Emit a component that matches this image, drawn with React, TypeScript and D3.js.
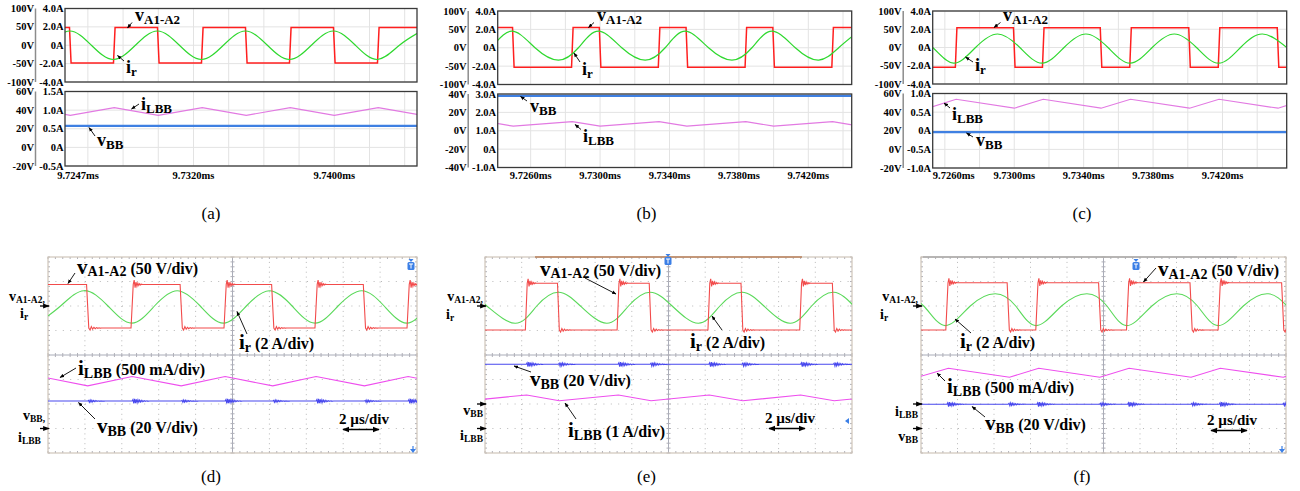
import React from 'react'
import * as d3 from 'd3'

type Pt = [number, number]

const SERIF = "'Liberation Serif', 'Times New Roman', serif"

// ---------------- (a)(b)(c) simulation, time in ms ----------------
const aTicks = [9.7247, 9.732, 9.74]
const bcTicks = [9.726, 9.73, 9.734, 9.738, 9.742]

const topV = [100, 50, 0, -50, -100]
const topA = ['4.0A', '2.0A', '0A', '-2.0A', '-4.0A']
const aBotV = [60, 40, 20, 0, -20]
const aBotA = ['1.5A', '1.0A', '0.5A', '0A', '-0.5A']
const bBotV = [40, 20, 0, -20, -40]
const bBotA = ['3.0A', '2.0A', '1.0A', '0A', '-1.0A']
const cBotV = [60, 40, 20, 0, -20]
const cBotA = ['1.0A', '0.5A', '0A', '-0.5A', '-1.0A']

// (a)
const aRise = [9.7275, 9.7325, 9.7375, 9.7425]
const aFall = [9.725, 9.73, 9.735, 9.74]
const aVab = [48, -48]
const aIr: Pt[] = [[9.72245, -1.55], [9.7237, 0], [9.72495, 1.55], [9.7262, 0], [9.72745, -1.55], [9.7287, 0], [9.72995, 1.55], [9.7312, 0], [9.73245, -1.55], [9.7337, 0], [9.73495, 1.55], [9.7362, 0], [9.73745, -1.55], [9.7387, 0], [9.73995, 1.55], [9.7412, 0], [9.74245, -1.55], [9.7437, 0], [9.74495, 1.55]]
const aIlbb: Pt[] = [[9.7225, 1.065], [9.725, 0.86], [9.7275, 1.065], [9.73, 0.86], [9.7325, 1.065], [9.735, 0.86], [9.7375, 1.065], [9.74, 0.86], [9.7425, 1.065], [9.745, 0.86]]
const aVbb = 23

// (b)
const bRise = [9.7234, 9.7284, 9.7334, 9.7384, 9.7434]
const bFall = [9.725, 9.73, 9.735, 9.74]
const bVab = [55, -53]
const bIr: Pt[] = [[9.7226, -1.35], [9.7237, 0], [9.7249, 1.8], [9.72625, 0], [9.7276, -1.35], [9.72875, 0], [9.7299, 1.8], [9.73125, 0], [9.7326, -1.35], [9.73375, 0], [9.7349, 1.8], [9.73625, 0], [9.7376, -1.35], [9.73875, 0], [9.7399, 1.8], [9.74125, 0], [9.7426, -1.35], [9.74375, 0], [9.7449, 1.8]]
const bIlbb: Pt[] = [[9.7234, 1.5], [9.725, 1.25], [9.7284, 1.5], [9.73, 1.25], [9.7334, 1.5], [9.735, 1.25], [9.7384, 1.5], [9.74, 1.25], [9.7434, 1.5], [9.745, 1.25]]
const bVbb = 38

// (c)
const cRise = [9.72665, 9.73167, 9.7367, 9.7418]
const cFall = [9.73, 9.735, 9.7401, 9.7452]
const cVab = [54, -54]
const cIr: Pt[] = [[9.724, 1.48], [9.7253, 0], [9.7265, -1.72], [9.72777, 0], [9.72904, 1.48], [9.73032, 0], [9.7316, -1.72], [9.73287, 0], [9.73413, 1.48], [9.7354, 0], [9.73667, -1.72], [9.73795, 0], [9.73922, 1.48], [9.7405, 0], [9.74177, -1.72], [9.74304, 0], [9.7443, 1.48], [9.7457, 0]]
const cIlbb: Pt[] = [[9.725, 0.605], [9.72665, 0.845], [9.73, 0.605], [9.73167, 0.845], [9.735, 0.605], [9.7367, 0.845], [9.7401, 0.605], [9.7418, 0.845], [9.7452, 0.605], [9.7469, 0.845]]
const cVbb = 18.5

// ---------------- (d)(e)(f) oscilloscope, time in µs (2 µs/div) ----------------
const dRise = [4.56, 9.6, 14.53, 19.52]
const dFall = [2.15, 7.22, 12.18, 17.15]
const dVab = [44, -45]
const dIr: Pt[] = [[-0.55, -1.4], [0.68, 0], [1.95, 1.25], [3.25, 0], [4.54, -1.4], [5.77, 0], [7.0, 1.25], [8.25, 0], [9.5, -1.4], [10.75, 0], [12.0, 1.25], [13.23, 0], [14.47, -1.4], [15.72, 0], [17.0, 1.25], [18.22, 0], [19.44, -1.4], [20.6, 0]]
const dIlbb: Pt[] = [[-0.4, 1.06], [2.15, 0.87], [4.56, 1.06], [7.22, 0.87], [9.6, 1.06], [12.18, 0.87], [14.53, 1.06], [17.15, 0.87], [19.52, 1.06], [22.1, 0.87]]
const dVbb = 22.4

const eRise = [2.25, 7.25, 12.2, 17.2]
const eFall = [4.0, 9.0, 14.0, 18.98]
const eVab = [46.5, -49]
const eIr: Pt[] = [[-1.0, 1.12], [0.1, 0], [1.64, -1.41], [2.82, 0], [4.0, 1.12], [5.2, 0], [6.64, -1.41], [7.82, 0], [9.0, 1.12], [10.2, 0], [11.63, -1.41], [12.8, 0], [14.0, 1.12], [15.2, 0], [16.63, -1.41], [17.8, 0], [19.0, 1.12], [20.1, 0]]
const eIlbb: Pt[] = [[-0.95, 1.13], [2.27, 1.37], [4.05, 1.13], [7.27, 1.37], [9.05, 1.13], [12.22, 1.37], [14.05, 1.13], [17.2, 1.37], [19.03, 1.13], [22.2, 1.37]]
const eVbb = 32.4

const fRise = [1.42, 6.35, 11.32, 16.34]
const fFall = [4.78, 9.79, 14.8, 19.82]
const fVab = [47.5, -49]
const fIr: Pt[] = [[-1.1, 1.0], [0.15, 0], [1.33, -1.6], [2.7, 0], [4.07, 1.0], [5.19, 0], [6.31, -1.6], [7.7, 0], [9.09, 1.0], [10.19, 0], [11.28, -1.6], [12.65, 0], [14.02, 1.0], [15.15, 0], [16.29, -1.6], [17.66, 0], [19.03, 1.0], [20.05, 0]]
const fIlbb: Pt[] = [[-0.15, 0.55], [1.5, 0.73], [4.85, 0.545], [6.45, 0.73], [9.8, 0.545], [11.4, 0.73], [14.8, 0.545], [16.4, 0.73], [19.85, 0.545], [21.4, 0.73]]
const fVbb = 19.8

// decaying ringing seen after the switching edges on the scope
const ringShape = [1, -0.75, 0.55, -0.4, 0.3, -0.22, 0.15, -0.1, 0.06]
const burstShape = [0.6, -1, 0.9, -0.8, 0.7, -0.6, 0.5, -0.45, 0.4, -0.35, 0.3, -0.25, 0.2, -0.18, 0.15, -0.12, 0.1, -0.08, 0.06, -0.05]

type Ring = { up: number; down: number; step: number }

function squarePts(rises: number[], falls: number[], lev: number[], t0: number, t1: number, startHigh: boolean, dt: number, ring?: Ring): Pt[] {
  const edges = [...rises.map(t => ({ t, up: true })), ...falls.map(t => ({ t, up: false }))].sort((a, b) => a.t - b.t)
  let v = startHigh ? lev[0] : lev[1]
  const pts: Pt[] = [[t0, v]]
  edges.forEach(e => {
    pts.push([e.t - dt / 2, v])
    v = e.up ? lev[0] : lev[1]
    pts.push([e.t + dt / 2, v])
    if (ring) {
      const amp = e.up ? ring.up : -ring.down
      const step = e.up ? ring.step : ring.step * 1.4
      ringShape.forEach((k, i) => pts.push([e.t + dt / 2 + (i + 1) * step, v + amp * k]))
      pts.push([e.t + dt / 2 + (ringShape.length + 1) * step, v])
    }
  })
  pts.push([t1, v])
  return pts
}

function burstPts(level: number, rises: number[], falls: number[], ampUp: number, ampDown: number, step: number): Pt[] {
  const edges = [...rises.map(t => ({ t, a: ampUp })), ...falls.map(t => ({ t, a: ampDown }))].sort((a, b) => a.t - b.t)
  const pts: Pt[] = [[0, level]]
  edges.forEach(e => {
    pts.push([e.t, level])
    burstShape.forEach((k, i) => pts.push([e.t + (i + 1) * step, level + e.a * k]))
    pts.push([e.t + (burstShape.length + 1) * step, level])
  })
  pts.push([20, level])
  return pts
}

type Note = { x: number; y: number; main: string; sub: string; rest?: string; leader: number[] }

function Label({ n, big, small, rest }: { n: Note; big: number; small: number; rest?: number }) {
  return (
    <g>
      <text x={n.x} y={n.y} fontFamily={SERIF} fontWeight="bold" fill="#000">
        <tspan fontSize={big}>{n.main}</tspan>
        <tspan fontSize={small} dy={2.5}>{n.sub}</tspan>
        {n.rest && <tspan fontSize={rest} dy={-2.5} dx={4}>{n.rest}</tspan>}
      </text>
      <line x1={n.leader[0]} y1={n.leader[1]} x2={n.leader[2]} y2={n.leader[3]} stroke="#000" strokeWidth={0.9} markerEnd="url(#arr)" />
    </g>
  )
}

function SimPanel(p: any) {
  const x = d3.scaleLinear().domain(p.domain).range([p.x0, p.x1])
  const [t0, t1] = p.top
  const [b0, b1] = p.bot
  const yV = d3.scaleLinear().domain([-100, 100]).range([t1, t0])
  const yA = d3.scaleLinear().domain([-4, 4]).range([t1, t0])
  const yV2 = d3.scaleLinear().domain(d3.extent(p.botV as number[]) as [number, number]).range([b1, b0])
  const yA2 = d3.scaleLinear().domain(p.botADomain).range([b1, b0])
  const lin = (ys: any) => d3.line<Pt>().x(d => x(d[0])).y(d => ys(d[1]))
  const smooth = (ys: any) => d3.line<Pt>().x(d => x(d[0])).y(d => ys(d[1])).curve(d3.curveNatural)
  const grid = d3.range(Math.ceil(p.domain[0] / 0.002 - 1e-6), Math.floor(p.domain[1] / 0.002 + 1e-6) + 1).map(k => k * 0.002)
  const vab = squarePts(p.rise, p.fall, p.vab, p.domain[0] - 0.001, p.domain[1] + 0.001, p.startHigh, 0.00009)
  const vbb: Pt[] = [[p.domain[0], p.vbb], [p.domain[1], p.vbb]]
  const plots = [
    { y0: t0, y1: t1, yv: yV, ticks: topV, alabels: topA, cid: p.id + 't' },
    { y0: b0, y1: b1, yv: yV2, ticks: p.botV, alabels: p.botA, cid: p.id + 'b' },
  ]
  return (
    <g fontFamily={SERIF} fontWeight="bold">
      {plots.map(pl => (
        <g key={pl.cid}>
          <clipPath id={pl.cid}><rect x={p.x0} y={pl.y0} width={p.x1 - p.x0} height={pl.y1 - pl.y0} /></clipPath>
          <rect x={p.x0} y={pl.y0} width={p.x1 - p.x0} height={pl.y1 - pl.y0} fill="#fff" />
          {grid.map(g => <line key={g} x1={x(g)} x2={x(g)} y1={pl.y0} y2={pl.y1} stroke="#e3e3e3" />)}
          {pl.ticks.map((v: number) => <line key={v} x1={p.x0} x2={p.x1} y1={pl.yv(v)} y2={pl.yv(v)} stroke="#e3e3e3" />)}
          <line x1={p.x0 - 29.5} x2={p.x0 - 29.5} y1={pl.y0} y2={pl.y1} stroke="#8c8c8c" strokeWidth={1.5} />
          {pl.ticks.map((v: number, i: number) => (
            <g key={'l' + v}>
              <text x={p.x0 - 31} y={pl.yv(v) + 3.5} fontSize={10.5} textAnchor="end">{v}V</text>
              <text x={p.x0 - 1.5} y={pl.yv(v) + 3.5} fontSize={10.5} textAnchor="end">{pl.alabels[i]}</text>
            </g>
          ))}
        </g>
      ))}
      <g clipPath={`url(#${p.id}t)`}>
        <path d={lin(yV)(vab) ?? ''} fill="none" stroke="#ff1f1f" strokeWidth={1.5} />
        <path d={smooth(yA)(p.ir) ?? ''} fill="none" stroke="#2fd82f" strokeWidth={1.2} />
      </g>
      <g clipPath={`url(#${p.id}b)`}>
        <path d={lin(yA2)(p.ilbb) ?? ''} fill="none" stroke="#e27ae2" strokeWidth={1.2} />
        <path d={lin(yV2)(vbb) ?? ''} fill="none" stroke="#3f80e2" strokeWidth={2.2} />
      </g>
      {plots.map(pl => <rect key={'f' + pl.cid} x={p.x0} y={pl.y0} width={p.x1 - p.x0} height={pl.y1 - pl.y0} fill="none" stroke="#3a3a3a" strokeWidth={1.3} />)}
      {p.xTicks.map((t: number) => (
        <text key={t} x={Math.max(x(t), p.labelMin + 20)} y={178.5} fontSize={10.5} textAnchor="middle">{t.toFixed(4)}ms</text>
      ))}
      {p.notes.map((n: Note, i: number) => <Label key={i} n={n} big={18} small={13} />)}
    </g>
  )
}

function ScopePanel(p: any) {
  const { x0, x1 } = p
  const y0 = 257
  const y1 = 453
  const xDiv = d3.scaleLinear().domain([0, 10]).range([x0, x1])
  const yDiv = d3.scaleLinear().domain([-4, 4]).range([y1, y0])
  const xt = d3.scaleLinear().domain([0, 20]).range([x0, x1])
  const tr = (off: number, per: number, curve: boolean) => {
    const l = d3.line<Pt>().x(d => xt(d[0])).y(d => yDiv(off + d[1] / per))
    return curve ? l.curve(d3.curveNatural) : l
  }
  const minor = d3.range(0, 51).map(k => k / 5)
  const minorY = d3.range(0, 41).map(k => k / 5 - 4)
  const cx = xDiv(5)
  const cy = yDiv(0)
  return (
    <g>
      <clipPath id={p.id}><rect x={x0} y={y0} width={x1 - x0} height={y1 - y0} /></clipPath>
      {d3.range(1, 10).filter(i => i !== 5).map(i => (
        <line key={'v' + i} x1={xDiv(i)} x2={xDiv(i)} y1={y0} y2={y1} stroke="#b8b8b8" strokeWidth={1} strokeDasharray="1 3.9" />
      ))}
      {d3.range(-3, 4).filter(i => i !== 0).map(i => (
        <line key={'h' + i} x1={x0} x2={x1} y1={yDiv(i)} y2={yDiv(i)} stroke="#b8b8b8" strokeWidth={1} strokeDasharray="1 6.4" />
      ))}
      <line x1={x0} x2={x1} y1={cy} y2={cy} stroke="#a9acb8" />
      <line x1={cx} x2={cx} y1={y0} y2={y1} stroke="#a9acb8" />
      {minor.map(m => (
        <g key={'m' + m} stroke="#b0b0b8">
          <line x1={xDiv(m)} x2={xDiv(m)} y1={cy - 2} y2={cy + 2} />
          <line x1={xDiv(m)} x2={xDiv(m)} y1={y0} y2={y0 + 2} />
          <line x1={xDiv(m)} x2={xDiv(m)} y1={y1 - 2} y2={y1} />
        </g>
      ))}
      {minorY.map(m => (
        <g key={'n' + m} stroke="#b0b0b8">
          <line x1={cx - 2} x2={cx + 2} y1={yDiv(m)} y2={yDiv(m)} />
          <line x1={x0} x2={x0 + 2} y1={yDiv(m)} y2={yDiv(m)} />
          <line x1={x1 - 2} x2={x1} y1={yDiv(m)} y2={yDiv(m)} />
        </g>
      ))}
      <rect x={x0} y={y0} width={x1 - x0} height={y1 - y0} fill="none" stroke="#cfc5ba" strokeWidth={1.2} />
      {p.topBar && <line x1={p.topBar[0]} x2={p.topBar[1]} y1={y0} y2={y0} stroke={p.topBar[2]} strokeWidth={1.6} />}
      <g clipPath={`url(#${p.id})`} fill="none">
        {p.traces.map((t: any, i: number) => (
          <path key={i} d={tr(t.off, t.per, !!t.curve)(t.pts) ?? ''} stroke={t.color} strokeWidth={t.w ?? 1.1} />
        ))}
      </g>
      {p.icons.map((c: any, i: number) => (
        c.kind === 'T' ? (
          <g key={i}>
            <rect x={c.x - 3.5} y={c.y - 4} width={7} height={8} rx={1.5} fill="#3b7fe6" />
            <path d={`M${c.x - 2},${c.y - 2} h4 M${c.x},${c.y - 2} v4.5`} stroke="#fff" strokeWidth={1} />
            <path d={`M${c.x - 2.5},${c.y - 7} h5 l-2.5,3 z`} fill="#3b7fe6" />
          </g>
        ) : (
          <path key={i} d={c.kind === 'L' ? `M${c.x + 3},${c.y - 3} v6 l-4,-3 z` : `M${c.x - 3},${c.y - 1} h6 l-3,4 z M${c.x - 0.6},${c.y - 4} h1.2 v3 h-1.2 z`} fill="#3b7fe6" />
        )
      ))}
      {p.markers.map((m: any, i: number) => (
        <g key={i}>
          <line x1={x0 - 8} x2={x0 + 1} y1={yDiv(m.off)} y2={yDiv(m.off)} stroke="#000" strokeWidth={1.3} markerEnd="url(#arr)" />
        </g>
      ))}
      {p.left.map((l: any, i: number) => (
        <text key={i} x={l.x} y={l.y} textAnchor={l.anchor ?? 'start'} fontFamily={SERIF} fontWeight="bold" fill="#000">
          <tspan fontSize={14}>{l.main}</tspan>
          <tspan fontSize={9.5} dy={1.5}>{l.sub}</tspan>
        </text>
      ))}
      {p.notes.map((n: Note, i: number) => <Label key={i} n={n} big={21} small={14} rest={16} />)}
      <text x={p.scale[0]} y={p.scale[1]} fontFamily={SERIF} fontWeight="bold" fontSize={15}>2 µs/div</text>
      <line x1={p.scale[0] + 4} x2={p.scale[0] + 40} y1={p.scale[1] + 5.5} y2={p.scale[1] + 5.5} stroke="#000" strokeWidth={1.4} markerStart="url(#arr2)" markerEnd="url(#arr)" />
    </g>
  )
}

export default function App() {
  const red = '#f24b4b'
  const green = '#5ad95a'
  const pink = '#ee4fee'
  const blue = '#4848ee'
  const ringD: Ring = { up: 9, down: 4, step: 0.05 }
  return (
    <svg width={1300} height={491} style={{ position: 'absolute', left: 0, top: 0, background: '#fff' }}>
      <defs>
        <marker id="arr" viewBox="0 0 10 10" refX={9} refY={5} markerWidth={5} markerHeight={5} orient="auto">
          <path d="M0,1 L10,5 L0,9 z" fill="#000" />
        </marker>
        <marker id="arr2" viewBox="0 0 10 10" refX={9} refY={5} markerWidth={5} markerHeight={5} orient="auto-start-reverse">
          <path d="M0,1 L10,5 L0,9 z" fill="#000" />
        </marker>
      </defs>

      <SimPanel id="sa" x0={65} x1={417} top={[8.5, 82]} bot={[91.5, 166]} domain={[9.7247, 9.7447]}
        xTicks={aTicks} labelMin={58} botV={aBotV} botA={aBotA} botADomain={[-0.5, 1.5]}
        rise={aRise} fall={aFall} vab={aVab} startHigh={true} ir={aIr} ilbb={aIlbb} vbb={aVbb}
        notes={[
          { x: 135, y: 21, main: 'v', sub: 'A1-A2', leader: [132, 22.5, 127.5, 28] },
          { x: 126, y: 73, main: 'i', sub: 'r', leader: [124, 61, 117.5, 55.5] },
          { x: 141, y: 110, main: 'i', sub: 'LBB', leader: [139, 104, 131.5, 109] },
          { x: 97, y: 146, main: 'v', sub: 'BB', leader: [95, 136, 89, 127.5] },
        ]} />
      <SimPanel id="sb" x0={497.7} x1={851.7} top={[11, 84.5]} bot={[94, 167.5]} domain={[9.7241, 9.7445]}
        xTicks={bcTicks} labelMin={497.7} botV={bBotV} botA={bBotA} botADomain={[-1, 3]}
        rise={bRise} fall={bFall} vab={bVab} startHigh={true} ir={bIr} ilbb={bIlbb} vbb={bVbb}
        notes={[
          { x: 597, y: 21, main: 'v', sub: 'A1-A2', leader: [594, 22.5, 588.5, 27.5] },
          { x: 582, y: 75, main: 'i', sub: 'r', leader: [580, 62, 574, 53] },
          { x: 530, y: 112, main: 'v', sub: 'BB', leader: [527, 101, 520.5, 96.5] },
          { x: 583, y: 142, main: 'i', sub: 'LBB', leader: [581, 129.5, 575, 124.5] },
        ]} />
      <SimPanel id="sc" x0={932.7} x1={1286.7} top={[11, 84]} bot={[93.5, 168]} domain={[9.7253, 9.7457]}
        xTicks={bcTicks} labelMin={933.7} botV={cBotV} botA={cBotA} botADomain={[-1, 1]}
        rise={cRise} fall={cFall} vab={cVab} startHigh={false} ir={cIr} ilbb={cIlbb} vbb={cVbb}
        notes={[
          { x: 1003, y: 21, main: 'v', sub: 'A1-A2', leader: [1000.5, 22.5, 994, 27.5] },
          { x: 975, y: 71, main: 'i', sub: 'r', leader: [973, 62, 965.5, 57] },
          { x: 952, y: 120, main: 'i', sub: 'LBB', leader: [950, 108, 944, 103] },
          { x: 976, y: 146, main: 'v', sub: 'BB', leader: [973, 137, 966.5, 133] },
        ]} />

      <ScopePanel id="pd" x0={48} x1={417}
        traces={[
          { pts: burstPts(dVbb, dRise, dFall, 2.0, 1.0, 0.045), off: -3, per: 20, color: blue },
          { pts: dIlbb, off: -3, per: 0.5, color: pink },
          { pts: dIr, off: 2, per: 2, color: green, curve: true },
          { pts: squarePts(dRise, dFall, dVab, -1, 21, true, 0.12, ringD), off: 2, per: 50, color: red },
        ]}
        markers={[{ off: 2 }, { off: -3 }]}
        left={[
          { x: 9, y: 301, main: 'v', sub: 'A1-A2,' },
          { x: 20, y: 318, main: 'i', sub: 'r' },
          { x: 23, y: 420, main: 'v', sub: 'BB,' },
          { x: 18, y: 442, main: 'i', sub: 'LBB' },
        ]}
        icons={[{ kind: 'T', x: 411, y: 266 }, { kind: 'D', x: 413, y: 450 }]}
        notes={[
          { x: 77, y: 273.5, main: 'v', sub: 'A1-A2', rest: '(50 V/div)', leader: [75, 273, 68, 283.5] },
          { x: 239, y: 349, main: 'i', sub: 'r', rest: '(2 A/div)', leader: [247, 334, 237, 311.5] },
          { x: 78, y: 375, main: 'i', sub: 'LBB', rest: '(500 mA/div)', leader: [76, 368, 60, 377.5] },
          { x: 97, y: 433, main: 'v', sub: 'BB', rest: '(20 V/div)', leader: [95, 419, 78.5, 402.5] },
        ]}
        scale={[339, 424]} />
      <ScopePanel id="pe" x0={485} x1={852}
        traces={[
          { pts: burstPts(eVbb, eRise, eFall, 2.0, 1.5, 0.045), off: -2, per: 20, color: blue },
          { pts: eIlbb, off: -3, per: 1, color: pink },
          { pts: eIr, off: 2, per: 2, color: green, curve: true },
          { pts: squarePts(eRise, eFall, eVab, -1, 21, false, 0.1, ringD), off: 2, per: 50, color: red },
        ]}
        markers={[{ off: 2 }, { off: -2 }, { off: -3 }]}
        left={[
          { x: 483, y: 301, main: 'v', sub: 'A1-A2,', anchor: 'end' },
          { x: 446, y: 319, main: 'i', sub: 'r' },
          { x: 483, y: 415, main: 'v', sub: 'BB', anchor: 'end' },
          { x: 483, y: 440, main: 'i', sub: 'LBB', anchor: 'end' },
        ]}
        icons={[{ kind: 'T', x: 668, y: 261 }, { kind: 'L', x: 846, y: 421 }]}
        topBar={[535, 802, '#b8805a']}
        notes={[
          { x: 540, y: 275.5, main: 'v', sub: 'A1-A2', rest: '(50 V/div)', leader: [585, 278, 616, 294] },
          { x: 690, y: 348, main: 'i', sub: 'r', rest: '(2 A/div)', leader: [722, 330, 712, 316] },
          { x: 530, y: 386, main: 'v', sub: 'BB', rest: '(20 V/div)', leader: [531, 372, 514, 366] },
          { x: 568, y: 437, main: 'i', sub: 'LBB', rest: '(1 A/div)', leader: [576, 419, 565, 403] },
        ]}
        scale={[765, 423]} />
      <ScopePanel id="pf" x0={921} x1={1286}
        traces={[
          { pts: burstPts(fVbb, fRise, fFall, 2.0, 1.2, 0.045), off: -3, per: 20, color: blue },
          { pts: fIlbb, off: -2, per: 0.5, color: pink },
          { pts: fIr, off: 2, per: 2, color: green, curve: true },
          { pts: squarePts(fRise, fFall, fVab, -1, 21, false, 0.12, ringD), off: 2, per: 50, color: red },
        ]}
        markers={[{ off: 2 }, { off: -2 }, { off: -3 }]}
        left={[
          { x: 918, y: 301, main: 'v', sub: 'A1-A2,', anchor: 'end' },
          { x: 880, y: 319, main: 'i', sub: 'r' },
          { x: 918, y: 416, main: 'i', sub: 'LBB', anchor: 'end' },
          { x: 918, y: 441, main: 'v', sub: 'BB', anchor: 'end' },
        ]}
        icons={[{ kind: 'T', x: 1136, y: 266 }, { kind: 'D', x: 1282, y: 450 }]}
        topBar={[923, 1237, '#a8a8a8']}
        notes={[
          { x: 1158, y: 276, main: 'v', sub: 'A1-A2', rest: '(50 V/div)', leader: [1156, 268, 1143.5, 282] },
          { x: 960, y: 348, main: 'i', sub: 'r', rest: '(2 A/div)', leader: [971, 333, 955, 319] },
          { x: 947, y: 393, main: 'i', sub: 'LBB', rest: '(500 mA/div)', leader: [945, 381, 937, 373] },
          { x: 985, y: 430, main: 'v', sub: 'BB', rest: '(20 V/div)', leader: [985, 417, 972, 406.5] },
        ]}
        scale={[1207, 425]} />

      {[['(a)', 211, 219], ['(b)', 646.5, 219], ['(c)', 1082, 219], ['(d)', 211, 482], ['(e)', 646.5, 482], ['(f)', 1082, 482]].map(([t, x, y]) => (
        <text key={t as string} x={x as number} y={y as number} textAnchor="middle" fontFamily={SERIF} fontSize={17}>{t}</text>
      ))}
    </svg>
  )
}
